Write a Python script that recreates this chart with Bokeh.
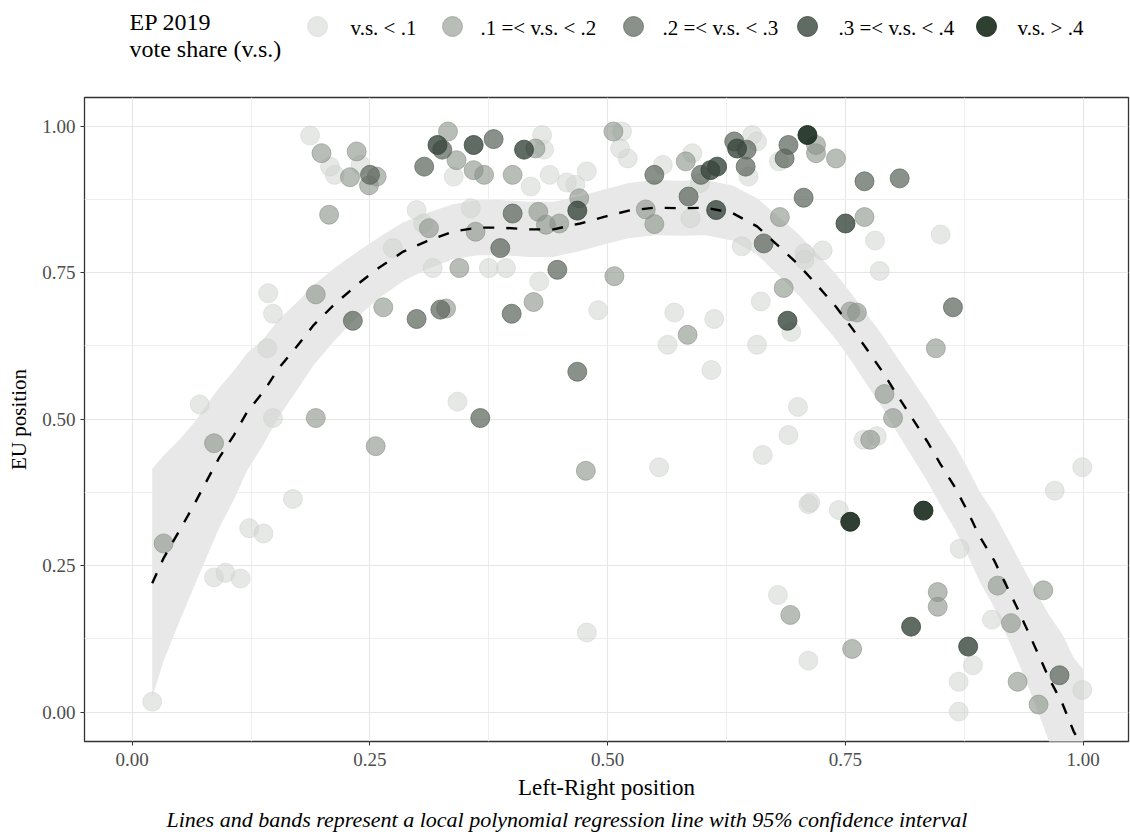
from bokeh.plotting import figure
from bokeh.models import Range1d, FixedTicker, NumeralTickFormatter, Title
from bokeh.layouts import column
from bokeh.embed import file_html
from bokeh.resources import INLINE
from bokeh.core.properties import value

SERIF = "Liberation Serif"

# ---- vote-share groups -------------------------------------------------
groups = ["v.s. < .1", ".1 =< v.s. < .2", ".2 =< v.s. < .3", ".3 =< v.s. < .4", "v.s. > .4"]
group_fill = ["#cdd1cd", "#899189", "#586359", "#38463c", "#182b1d"]
group_alpha = [0.5, 0.6, 0.7, 0.8, 0.9]

# party positions: left-right (x) and EU position (y), per vote-share group
lr_g0 = [0.187, 0.208, 0.213, 0.240, 0.299, 0.306, 0.274, 0.316, 0.143, 0.148,
         0.142, 0.071, 0.148, 0.169, 0.123, 0.138, 0.086, 0.098, 0.114, 0.021,
         0.338, 0.431, 0.433, 0.419, 0.439, 0.457, 0.466, 0.478, 0.515, 0.513,
         0.521, 0.356, 0.375, 0.393, 0.428, 0.490, 0.342, 0.558, 0.589, 0.597,
         0.652, 0.657, 0.648, 0.587, 0.641, 0.661, 0.570, 0.612, 0.563, 0.657,
         0.609, 0.554, 0.663, 0.478, 0.680, 0.707, 0.707, 0.726, 0.781, 0.850,
         0.786, 0.693, 0.700, 0.690, 0.783, 0.769, 0.999, 0.970, 0.711, 0.713,
         0.743, 0.870, 0.679, 0.904, 0.711, 0.884, 0.869, 0.999, 0.869]
eu_g0 = [0.984, 0.931, 0.917, 0.934, 0.857, 0.834, 0.792, 0.758, 0.715, 0.680,
         0.621, 0.525, 0.502, 0.364, 0.314, 0.305, 0.230, 0.238, 0.228, 0.018,
         0.914, 0.985, 0.960, 0.897, 0.917, 0.904, 0.900, 0.923, 0.991, 0.962,
         0.945, 0.860, 0.758, 0.758, 0.735, 0.686, 0.530, 0.934, 0.954, 0.903,
         0.985, 0.974, 0.914, 0.843, 0.795, 0.701, 0.682, 0.671, 0.627, 0.627,
         0.584, 0.418, 0.439, 0.136, 0.940, 0.783, 0.772, 0.788, 0.805, 0.815,
         0.753, 0.649, 0.521, 0.473, 0.471, 0.465, 0.418, 0.378, 0.355, 0.358,
         0.345, 0.279, 0.200, 0.158, 0.088, 0.080, 0.052, 0.038, 0.001]

lr_g1 = [0.199, 0.236, 0.229, 0.249, 0.257, 0.207, 0.312, 0.193, 0.264, 0.193,
         0.086, 0.256, 0.033, 0.332, 0.341, 0.359, 0.370, 0.424, 0.400, 0.506,
         0.470, 0.427, 0.361, 0.435, 0.449, 0.344, 0.507, 0.422, 0.330, 0.477,
         0.582, 0.540, 0.549, 0.584, 0.719, 0.719, 0.740, 0.681, 0.770, 0.685,
         0.755, 0.762, 0.845, 0.791, 0.800, 0.776, 0.910, 0.958, 0.847, 0.847,
         0.692, 0.924, 0.757, 0.931, 0.953]
eu_g1 = [0.954, 0.957, 0.913, 0.899, 0.914, 0.849, 0.826, 0.713, 0.691, 0.502,
         0.459, 0.454, 0.288, 0.991, 0.942, 0.925, 0.917, 0.962, 0.917, 0.991,
         0.877, 0.854, 0.820, 0.832, 0.834, 0.758, 0.744, 0.700, 0.689, 0.412,
         0.940, 0.858, 0.833, 0.644, 0.968, 0.954, 0.945, 0.845, 0.845, 0.724,
         0.684, 0.682, 0.621, 0.543, 0.502, 0.465, 0.216, 0.208, 0.205, 0.180,
         0.166, 0.152, 0.108, 0.052, 0.013]

lr_g2 = [0.250, 0.307, 0.326, 0.380, 0.232, 0.299, 0.324, 0.400, 0.387, 0.447,
         0.399, 0.366, 0.468, 0.549, 0.598, 0.633, 0.646, 0.645, 0.585, 0.664,
         0.690, 0.686, 0.770, 0.807, 0.706, 0.863, 0.975]
eu_g2 = [0.917, 0.931, 0.960, 0.978, 0.668, 0.671, 0.687, 0.851, 0.792, 0.755,
         0.680, 0.502, 0.581, 0.917, 0.917, 0.974, 0.960, 0.931, 0.880, 0.800,
         0.968, 0.945, 0.906, 0.911, 0.878, 0.691, 0.063]

lr_g3 = [0.321, 0.359, 0.412, 0.468, 0.608, 0.615, 0.636, 0.614, 0.750, 0.689, 0.819, 0.879]
eu_g3 = [0.968, 0.968, 0.960, 0.856, 0.925, 0.931, 0.962, 0.857, 0.834, 0.668, 0.146, 0.112]

lr_g4 = [0.710, 0.755, 0.832]
eu_g4 = [0.985, 0.325, 0.344]

# ---- local polynomial fit and its 95% interval half-width ---------------
fit_x = [0.021, 0.033, 0.050, 0.065, 0.078, 0.091, 0.107, 0.121, 0.138, 0.154,
         0.173, 0.191, 0.212, 0.236, 0.259, 0.285, 0.310, 0.337, 0.363, 0.387,
         0.417, 0.443, 0.471, 0.498, 0.522, 0.549, 0.577, 0.603, 0.631, 0.657,
         0.680, 0.701, 0.720, 0.740, 0.757, 0.773, 0.789, 0.804, 0.820, 0.836,
         0.850, 0.865, 0.878, 0.891, 0.906, 0.918, 0.930, 0.941, 0.953, 0.964,
         0.978, 0.990, 1.000]
fit_y = [0.220, 0.263, 0.311, 0.354, 0.394, 0.433, 0.473, 0.513, 0.547, 0.587,
         0.624, 0.661, 0.695, 0.729, 0.758, 0.786, 0.804, 0.820, 0.827, 0.827,
         0.824, 0.824, 0.834, 0.846, 0.856, 0.861, 0.860, 0.861, 0.852, 0.829,
         0.795, 0.763, 0.729, 0.692, 0.655, 0.618, 0.581, 0.542, 0.502, 0.462,
         0.423, 0.384, 0.344, 0.300, 0.260, 0.220, 0.180, 0.141, 0.098, 0.058,
         0.015, -0.033, -0.060]
fit_ci = [0.195, 0.175, 0.155, 0.140, 0.130, 0.120, 0.110, 0.100, 0.090, 0.083,
          0.075, 0.068, 0.062, 0.056, 0.052, 0.050, 0.048, 0.047, 0.047, 0.047,
          0.047, 0.047, 0.047, 0.047, 0.047, 0.047, 0.047, 0.047, 0.047, 0.048,
          0.050, 0.052, 0.054, 0.056, 0.058, 0.060, 0.062, 0.064, 0.066, 0.068,
          0.070, 0.072, 0.074, 0.077, 0.080, 0.084, 0.088, 0.093, 0.100, 0.108,
          0.118, 0.126, 0.133]

x_ticks = [0.0, 0.25, 0.5, 0.75, 1.0]
y_ticks = [0.0, 0.25, 0.5, 0.75, 1.0]
minor_ticks = [0.125, 0.375, 0.625, 0.875]

FRAME_LEFT, FRAME_RIGHT = 84, 1128   # page pixels of the plotting frame

# ---- header with the legend (pixel coordinates) -------------------------
head = figure(width=1130, height=90, x_range=Range1d(FRAME_LEFT, FRAME_RIGHT), y_range=Range1d(90, 0),
              toolbar_location=None, output_backend="svg",
              min_border_left=FRAME_LEFT, min_border_right=1130 - FRAME_RIGHT,
              min_border_top=0, min_border_bottom=0)
head.axis.visible = False
head.grid.visible = False
head.outline_line_color = None

head.text(x=[129, 129], y=[21, 48], text=["EP 2019", "vote share (v.s.)"],
          text_font=value(SERIF), text_font_size="24px", text_color="black",
          text_baseline="middle", text_align="left")

key_x = [317, 452, 633, 807, 986]
label_x = [350, 480, 662, 838, 1017]
for i, name in enumerate(groups):
    head.scatter(x=[key_x[i]], y=[26], size=20, fill_color=group_fill[i],
                 fill_alpha=group_alpha[i], line_color=group_fill[i], line_alpha=group_alpha[i])
    head.text(x=[label_x[i]], y=[27], text=[name], text_font=value(SERIF),
              text_font_size="21px", text_color="black",
              text_baseline="middle", text_align="left")

# ---- main scatter -------------------------------------------------------
p = figure(width=1130, height=750,
           x_range=Range1d(-0.0502, 1.0476), y_range=Range1d(-0.050, 1.049),
           toolbar_location=None, output_backend="svg",
           min_border_left=FRAME_LEFT, min_border_right=1130 - FRAME_RIGHT,
           min_border_top=7, min_border_bottom=99)

p.background_fill_color = "white"
p.outline_line_color = "#333333"
p.outline_line_width = 1.3

for ax, ticks in ((p.xaxis, x_ticks), (p.yaxis, y_ticks)):
    ax.ticker = FixedTicker(ticks=ticks, minor_ticks=minor_ticks)
    ax.formatter = NumeralTickFormatter(format="0.00")
    ax.axis_line_color = None
    ax.major_tick_line_color = "#333333"
    ax.major_tick_in = 0
    ax.major_tick_out = 4
    ax.minor_tick_line_color = None
    ax.major_label_text_font = SERIF
    ax.major_label_text_font_size = "19px"
    ax.major_label_text_color = "#4d4d4d"
    ax.axis_label_text_font = SERIF
    ax.axis_label_text_font_style = "normal"
    ax.axis_label_text_color = "black"

p.xaxis.axis_label = "Left-Right position"
p.yaxis.axis_label = "EU position"
p.xaxis.axis_label_text_font_size = "23px"
p.yaxis.axis_label_text_font_size = "21px"
p.xaxis.major_label_standoff = 7
p.yaxis.major_label_standoff = 5
p.xaxis.axis_label_standoff = 6
p.yaxis.axis_label_standoff = 8

for g in (p.xgrid, p.ygrid):
    g.grid_line_color = "#e6e6e6"
    g.grid_line_width = 1.1
    g.minor_grid_line_color = "#eeeeee"
    g.minor_grid_line_width = 1

# confidence band, then points, then the dashed fit line
band_hi = [f + c for f, c in zip(fit_y, fit_ci)]
band_lo = [f - c for f, c in zip(fit_y, fit_ci)]
p.patch(fit_x + fit_x[::-1], band_hi + band_lo[::-1],
        fill_color="#e8e8e8", fill_alpha=1.0, line_color=None)

series = [(lr_g0, eu_g0), (lr_g1, eu_g1), (lr_g2, eu_g2), (lr_g3, eu_g3), (lr_g4, eu_g4)]
for i, (xs, ys) in enumerate(series):
    p.scatter(x=xs, y=ys, size=19, fill_color=group_fill[i], fill_alpha=group_alpha[i],
              line_color=group_fill[i], line_alpha=group_alpha[i], line_width=1)

p.line(fit_x, fit_y, line_color="black", line_width=2.4, line_dash="11 12")

caption = Title(text="Lines and bands represent a local polynomial regression line with 95% confidence interval",
                align="left", offset=82, text_font=SERIF, text_font_size="22px",
                text_font_style="italic", text_color="black", standoff=4)
p.add_layout(caption, "below")

layout = column(head, p, spacing=0)
open("out.html", "w").write(file_html(layout, INLINE))
